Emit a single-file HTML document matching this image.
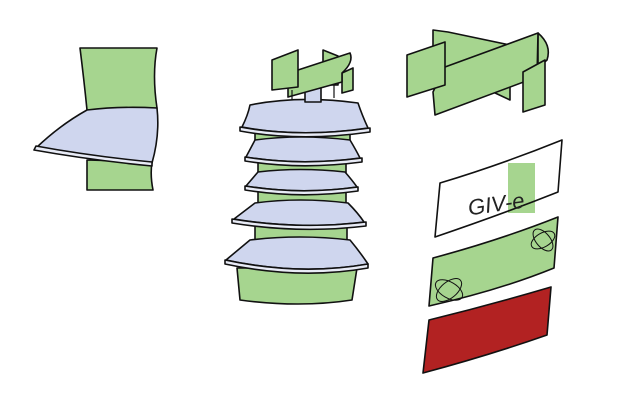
<!DOCTYPE html>
<html><head><style>body{margin:0;background:#fff}svg{display:block}</style></head><body>
<svg width="627" height="400" viewBox="0 0 627 400" xmlns="http://www.w3.org/2000/svg" stroke="#111" stroke-width="1.6" stroke-linejoin="round" fill="none">
<!-- left object -->
<path d="M80,48 L157,48 Q152,75 157,108 L87,110 Q84,80 80,48Z" fill="#a6d58f"/>
<path d="M87,160 L152,162 Q150,175 153,190 L87,190Z" fill="#a6d58f"/>
<path d="M87,110 Q120,106 157,108 Q160,135 152,163 Q90,160 36,148 Q60,125 87,110Z" fill="#cfd6ee"/>
<path d="M34,150 Q90,160 152,166 L152,162 Q90,156 36,146Z" fill="#e8ebf6"/>
<!-- middle stack -->
<path d="M237,268 L357,268 L352,300 Q300,308 240,300Z" fill="#a6d58f"/>
<g fill="#a6d58f">
<rect x="255" y="125" width="95" height="20"/>
<rect x="258" y="158" width="88" height="20"/>
<rect x="258" y="187" width="88" height="20"/>
<rect x="255" y="220" width="92" height="24"/>
</g>
<g fill="#cfd6ee">
<path d="M250,105 Q300,95 358,103 Q362,115 368,128 Q300,138 242,127 Q248,115 250,105Z"/>
<path d="M255,140 Q300,134 350,140 Q356,150 360,158 Q300,166 246,157Z"/>
<path d="M258,172 Q300,167 345,172 Q352,180 357,187 Q300,195 246,186Z"/>
<path d="M255,203 Q300,197 348,203 Q358,213 364,222 Q300,230 234,219Z"/>
<path d="M250,240 Q300,234 350,240 Q360,252 368,264 Q300,276 226,260Z"/>
</g>
<g fill="#e8ebf6">
<path d="M240,127 Q300,138 370,128 L370,132 Q300,142 240,131Z"/>
<path d="M245,157 Q300,166 362,158 L362,162 Q300,170 245,161Z"/>
<path d="M245,186 Q300,195 358,187 L358,191 Q300,199 245,190Z"/>
<path d="M232,219 Q300,230 366,222 L366,226 Q300,234 232,223Z"/>
<path d="M225,260 Q300,276 368,264 L368,268 Q300,280 225,264Z"/>
</g>
<rect x="305" y="88" width="16" height="14" fill="#cfd6ee"/>
<g fill="#a6d58f">
<path d="M323,50 L338,56 L338,85 L323,85Z"/>
<path d="M342,73 L353,68 L353,90 L342,93Z"/>
<path d="M298,70 L350,53 Q354,62 342,73 L342,82 L288,97 L288,75Z"/>
<path d="M272,60 L298,50 L298,87 L272,90Z"/>
</g>
<path d="M292,90 L292,100 M334,85 L334,98" stroke-width="1.2"/>
<!-- right top band -->
<g fill="#a6d58f">
<path d="M433,30 L448,32 L510,45 L510,100 L493,92 L433,80Z"/>
<path d="M538,33 Q552,45 547,60 L538,68Z"/>
<path d="M445,67 L538,33 L537,77 L435,115 L433,92Z"/>
<path d="M523,72 L545,60 L545,105 L523,112Z"/>
<path d="M407,55 L445,42 L445,85 L407,97Z"/>
</g>
<!-- GIV-e panel -->
<rect x="508" y="163" width="27" height="50" fill="#a6d58f" stroke="none"/>
<path d="M440,183 Q500,165 562,140 L558,192 Q500,215 435,237Z"/>
<text x="468" y="211" font-family="Liberation Sans, sans-serif" font-size="22" fill="#222" stroke="none" font-style="italic" transform="rotate(-8 500 205)">GIV-e</text>
<!-- green panel -->
<path d="M433,258 Q500,240 558,217 L554,268 Q500,290 429,306Z" fill="#a6d58f"/>
<ellipse cx="449" cy="290" rx="15" ry="8" transform="rotate(30 449 290)" stroke-width="1"/>
<ellipse cx="449" cy="290" rx="15" ry="8" transform="rotate(-40 449 290)" stroke-width="1"/>
<ellipse cx="543" cy="240" rx="13" ry="7" transform="rotate(50 543 240)" stroke-width="1"/>
<ellipse cx="543" cy="240" rx="13" ry="7" transform="rotate(-30 543 240)" stroke-width="1"/>
<!-- red panel -->
<path d="M429,320 Q490,305 551,287 L547,335 Q490,355 423,373Z" fill="#b22222"/>
</svg>
</body></html>
